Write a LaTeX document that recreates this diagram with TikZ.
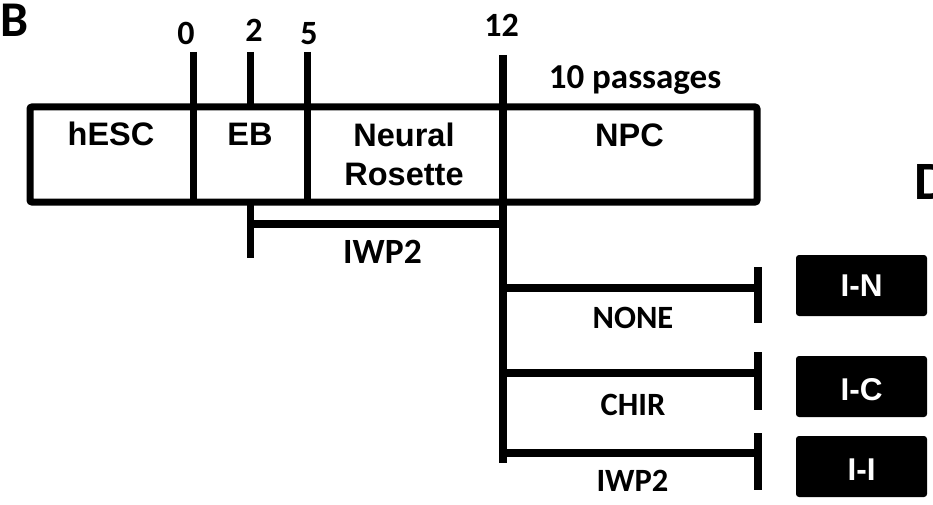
\documentclass[tikz,border=0pt]{standalone}
\usepackage{fontspec}
\setmainfont{Liberation Sans}
\newfontfamily\calfont{Carlito}
\begin{document}
\begin{tikzpicture}[x=1pt,y=-1pt,
  thick line/.style={line width=7.5pt,line cap=butt},
  celltext/.style={font=\fontsize{32.5}{38}\selectfont\bfseries,anchor=base,inner sep=0pt,align=center},
  numtext/.style={font=\calfont\fontsize{34}{36}\selectfont\bfseries,anchor=base,inner sep=0pt},
  labtext/.style={font=\calfont\fontsize{32.5}{36}\selectfont\bfseries,anchor=base,inner sep=0pt},
  blackbox/.style={fill=black,rounded corners=3pt},
  boxtext/.style={font=\fontsize{31.5}{36}\selectfont\bfseries,text=white,anchor=base,inner sep=0pt},
  paneltext/.style={font=\calfont\bfseries,anchor=base,inner sep=0pt}]
\useasboundingbox (0,0) rectangle (933,505);
% panel letters
\node[paneltext,font=\calfont\fontsize{50}{50}\selectfont\bfseries] (B) at (15,37) {B};
\node[paneltext,font=\calfont\fontsize{54}{54}\selectfont\bfseries,anchor=base west] (D) at (914,199) {D};
% main box
\draw[line width=7pt,rounded corners=2pt] (30,107) rectangle (757,202);
% coordinates
\coordinate (t0top) at (193,52);
\coordinate (t0bot) at (193,202);
\coordinate (t2top) at (250,52);
\coordinate (t2mid) at (250,110);
\coordinate (t2low) at (250,202);
\coordinate (t2end) at (250,258);
\coordinate (t5top) at (307,52);
\coordinate (t5bot) at (307,202);
\coordinate (t12top) at (503,55);
\coordinate (t12bot) at (503,463);
\coordinate (iwpL) at (250,224);
\coordinate (iwpR) at (503,224);
\coordinate (b1L) at (503,288); \coordinate (b1R) at (758,288);
\coordinate (b2L) at (503,373); \coordinate (b2R) at (758,373);
\coordinate (b3L) at (503,453); \coordinate (b3R) at (758,453);
% ticks / dividers
\draw[thick line,line width=7pt] (t0top) -- (t0bot);
\draw[thick line,line width=7pt] (t2top) -- (t2mid);
\draw[thick line,line width=7pt] (t2low) -- (t2end);
\draw[thick line,line width=7pt] (t5top) -- (t5bot);
\draw[thick line,line width=8pt] (t12top) -- (t12bot);
\draw[thick line] (iwpL) -- (iwpR);
% branches with bars
\draw[thick line] (b1L) -- (b1R);
\draw[thick line,line width=8pt] (758,267) -- (758,323);
\draw[thick line] (b2L) -- (b2R);
\draw[thick line,line width=8pt] (758,352) -- (758,410);
\draw[thick line] (b3L) -- (b3R);
\draw[thick line,line width=8pt] (758,433) -- (758,490);
% numbers
\node[numtext] (n0) at (186,44.3) {0};
\node[numtext] (n2) at (254,41.7) {2};
\node[numtext] (n5) at (309,44.3) {5};
\node[numtext] (n12) at (501.5,36.7) {12};
\node[labtext,font=\calfont\fontsize{35}{38}\selectfont\bfseries] (pass) at (635,88.3) {10 passages};
% cell texts
\node[celltext] (hesc) at (111,146) {hESC};
\node[celltext] (eb) at (250,146) {EB};
\node[celltext] (neural) at (404,146.7) {Neural};
\node[celltext] (rosette) at (404,185) {Rosette};
\node[celltext] (npc) at (629.5,146.7) {NPC};
% labels
\node[labtext,font=\calfont\fontsize{35.5}{38}\selectfont\bfseries] (iwp2a) at (382.5,263) {IWP2};
\node[labtext] (none) at (633,328) {NONE};
\node[labtext] (chir) at (633,415) {CHIR};
\node[labtext] (iwp2b) at (632.5,491) {IWP2};
% black boxes
\fill[blackbox] (796,255) rectangle (927,316);
\fill[blackbox] (796,356) rectangle (927,417);
\fill[blackbox] (796,436) rectangle (927,497);
\node[boxtext] (in) at (861.7,296.7) {I-N};
\node[boxtext] (ic) at (861.7,400) {I-C};
\node[boxtext] (ii) at (861.7,480) {I-I};
\end{tikzpicture}
\end{document}
